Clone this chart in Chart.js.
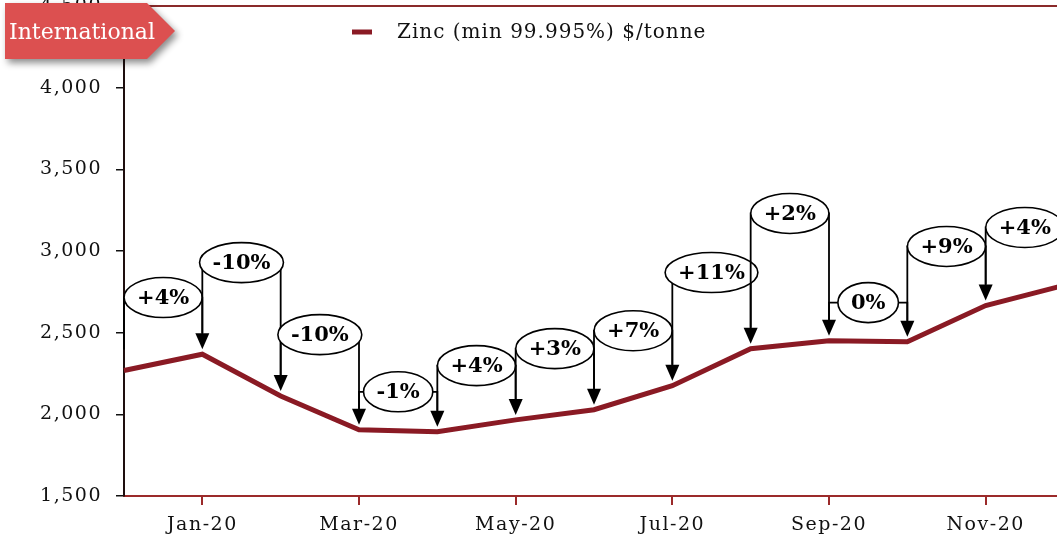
<!DOCTYPE html>
<html><head><meta charset="utf-8">
<script src="https://cdn.jsdelivr.net/npm/chart.js@4"></script>
<style>
html,body{margin:0;padding:0;overflow:hidden;background:#fff;width:1057px;height:546px}
#wrap{position:absolute;left:0;top:0;width:1066px;height:546px}
</style></head><body>
<div id="wrap"><canvas id="c"></canvas></div>
<script>
const months = ['Dec-19','Jan-20','Feb-20','Mar-20','Apr-20','May-20','Jun-20','Jul-20','Aug-20','Sep-20','Oct-20','Nov-20','Dec-20'];
const zincPrice = [2268, 2368, 2112, 1905, 1893, 1966, 2028, 2175, 2402, 2451, 2445, 2666, 2790];
const changeLabels = ['+4%','-10%','-10%','-1%','+4%','+3%','+7%','+11%','+2%','0%','+9%','+4%'];
const labelLevels = [2715, 2929, 2488, 2138, 2298, 2402, 2512, 2868, 3230, 2684, 3028, 3144];
const yTickValues = [1500, 2000, 2500, 3000, 3500, 4000, 4500];
const seriesName = 'Zinc (min 99.995%) $/tonne';
const tagText = 'International';

const LINE_COLOR = '#8a1a24';
const SERIF = '"DejaVu Serif", "Liberation Serif", serif';

const decorPlugin = {
  id: 'decor',
  beforeDraw(chart) { chart.ctx.letterSpacing = '1.5px'; },
  afterDatasetsDraw(chart) {
    const ctx = chart.ctx, xs = chart.scales.x, ys = chart.scales.y, ca = chart.chartArea;
    ctx.save();
    ctx.letterSpacing = '0px';
    ctx.strokeStyle = '#8a2a2a'; ctx.lineWidth = 2;
    ctx.beginPath(); ctx.moveTo(ca.left, ca.top); ctx.lineTo(ca.right, ca.top); ctx.stroke();
    ctx.font = 'bold 21px ' + SERIF;
    ctx.textAlign = 'center'; ctx.textBaseline = 'middle';
    const gap = 5, headL = 16, headW = 7;
    for (let k = 0; k < changeLabels.length; k++) {
      const x1 = xs.getPixelForValue(k), x2 = xs.getPixelForValue(k + 1);
      const yl = ys.getPixelForValue(labelLevels[k]);
      const y1 = ys.getPixelForValue(zincPrice[k]);
      const y2 = ys.getPixelForValue(zincPrice[k + 1]);
      ctx.strokeStyle = '#000'; ctx.lineWidth = 1.8;
      ctx.beginPath();
      ctx.moveTo(x1, y1 - gap - headL); ctx.lineTo(x1, yl); ctx.lineTo(x2, yl); ctx.lineTo(x2, y2 - gap - headL + 1);
      ctx.stroke();
      ctx.fillStyle = '#000';
      ctx.beginPath();
      ctx.moveTo(x2 - headW, y2 - gap - headL); ctx.lineTo(x2 + headW, y2 - gap - headL); ctx.lineTo(x2, y2 - gap);
      ctx.closePath(); ctx.fill();
      const tw = ctx.measureText(changeLabels[k]).width;
      const cx = (x1 + x2) / 2, rx = tw / 2 + 13, ry = 20;
      ctx.beginPath(); ctx.ellipse(cx, yl, rx, ry, 0, 0, Math.PI * 2);
      ctx.fillStyle = '#fff'; ctx.fill(); ctx.lineWidth = 1.6; ctx.stroke();
      ctx.fillStyle = '#000'; ctx.fillText(changeLabels[k], cx, yl + 1);
    }
    ctx.restore();
  },
  afterDraw(chart) {
    const ctx = chart.ctx;
    ctx.save();
    ctx.letterSpacing = '1px';
    ctx.strokeStyle = LINE_COLOR; ctx.lineWidth = 5;
    ctx.beginPath(); ctx.moveTo(352, 32); ctx.lineTo(372, 32); ctx.stroke();
    ctx.font = '20px ' + SERIF; ctx.fillStyle = '#111';
    ctx.textAlign = 'left'; ctx.textBaseline = 'middle';
    ctx.fillText(chart.data.datasets[0].label, 397, 33);
    ctx.save();
    ctx.shadowColor = 'rgba(0,0,0,0.45)'; ctx.shadowBlur = 7; ctx.shadowOffsetX = 3; ctx.shadowOffsetY = 4;
    ctx.fillStyle = '#dc5050';
    ctx.beginPath();
    ctx.moveTo(5, 3); ctx.lineTo(147, 3); ctx.lineTo(175, 31); ctx.lineTo(147, 59); ctx.lineTo(5, 59);
    ctx.closePath(); ctx.fill();
    ctx.restore();
    ctx.letterSpacing = '0px';
    ctx.font = '22px ' + SERIF; ctx.fillStyle = '#fff';
    ctx.fillText(tagText, 9, 33);
    ctx.restore();
  }
};

new Chart(document.getElementById('c'), {
  type: 'line',
  data: {
    labels: months,
    datasets: [{
      label: seriesName,
      data: zincPrice,
      borderColor: LINE_COLOR,
      borderWidth: 5,
      pointRadius: 0,
      tension: 0,
      fill: false
    }]
  },
  options: {
    responsive: true,
    maintainAspectRatio: false,
    animation: false,
    layout: { padding: { left: 0, right: 2, top: 0, bottom: 0 } },
    plugins: { legend: { display: false }, tooltip: { enabled: false } },
    scales: {
      x: {
        type: 'category',
        offset: false,
        grid: { drawOnChartArea: false, drawTicks: true, tickLength: 9, color: '#9b2a2a', lineWidth: 2 },
        border: { color: '#9b2a2a', width: 2 },
        ticks: {
          autoSkip: false, maxRotation: 0, padding: 9,
          color: '#111', font: { family: SERIF, size: 19 },
          callback: function (v, i) { return i % 2 === 1 ? months[i] : null; }
        },
        afterFit(s) { s.height = 50; s.paddingLeft = 0; s.paddingRight = 0; }
      },
      y: {
        min: yTickValues[0], max: yTickValues[yTickValues.length - 1],
        afterBuildTicks(s) { s.ticks = yTickValues.map(v => ({ value: v })); },
        grid: { drawOnChartArea: false, drawTicks: true, tickLength: 8, color: '#111', lineWidth: 1.5 },
        border: { color: '#1e0e0e', width: 2 },
        ticks: {
          padding: 14, color: '#111', font: { family: SERIF, size: 19 },
          callback: v => v.toLocaleString('en-US')
        },
        afterFit(s) { s.width = 124; s.paddingTop = 6; s.paddingBottom = 0; }
      }
    }
  },
  plugins: [decorPlugin]
});
</script>
</body></html>
